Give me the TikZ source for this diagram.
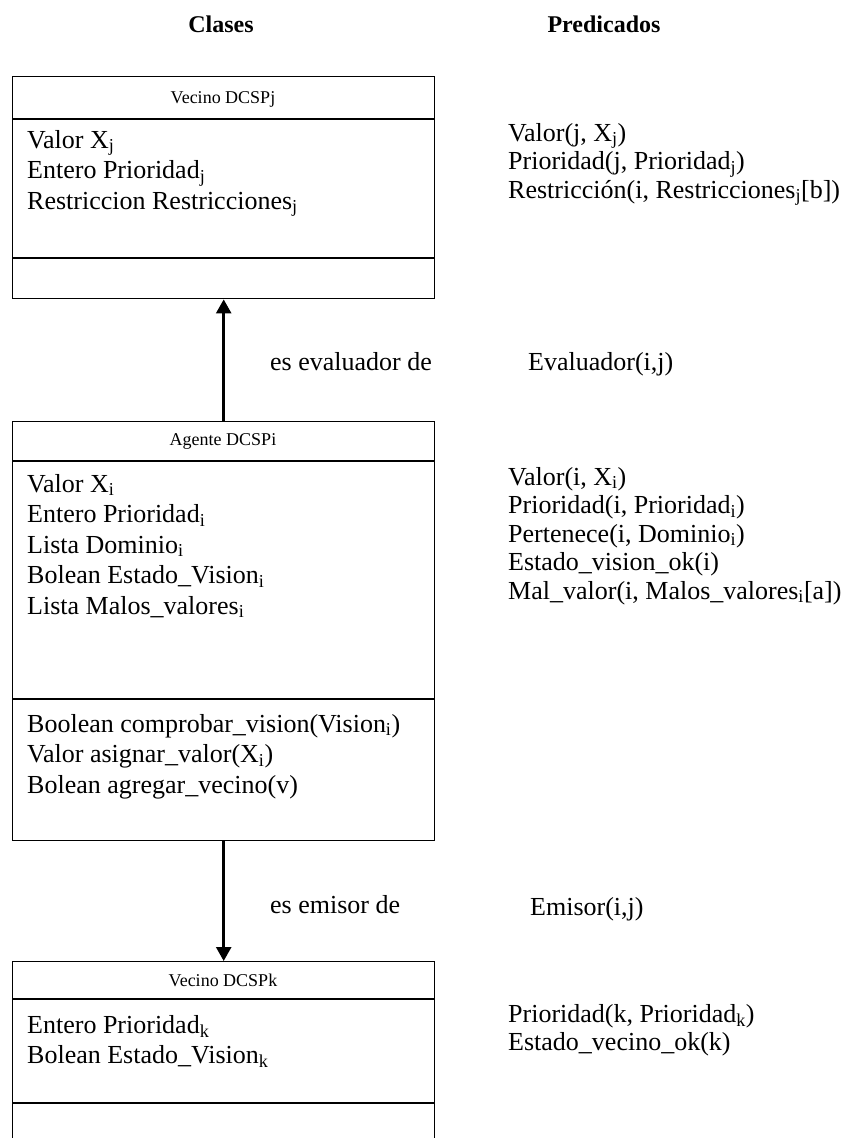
\documentclass[tikz,border=0pt]{standalone}
\usepackage{fontspec}
\setmainfont{Liberation Serif}
\usetikzlibrary{arrows.meta}
\newcommand{\ssub}[1]{\textsubscript{#1}}
\begin{document}
\begin{tikzpicture}[x=1pt,y=-1pt,
  classbox/.style={draw, line width=1.4pt, minimum width=422pt, inner sep=0pt, anchor=north west},
  part/.style={line width=1.4pt},
  title/.style={font=\fontsize{24}{28}\selectfont\bfseries, anchor=base, inner sep=0pt},
  head/.style={font=\fontsize{18}{21}\selectfont, anchor=center, inner sep=0pt},
  lefttxt/.style={font=\fontsize{26}{30.5}\selectfont, anchor=north west, align=left, inner sep=0pt},
  righttxt/.style={font=\fontsize{26}{28.5}\selectfont, anchor=north west, align=left, inner sep=0pt},
  lbl/.style={font=\fontsize{26}{30}\selectfont, anchor=base west, inner sep=0pt},
  link/.style={line width=2.5pt, -{Triangle[width=15pt,length=14pt]}},
]
\useasboundingbox (0,0) rectangle (848,1138);
\clip (0,0) rectangle (848,1138);

% column titles
\node[title] (tclases) at (221,32) {Clases};
\node[title] (tpred) at (604,32) {Predicados};

% class boxes
\node[classbox, minimum height=222pt] (vj) at (12,76) {};
\node[classbox, minimum height=419pt] (ag) at (12,421) {};
\node[classbox, minimum height=220pt] (vk) at (12,961) {};

% compartment separators
\draw[part] (12,119) -- (434,119);
\draw[part] (12,258) -- (434,258);
\draw[part] (12,461) -- (434,461);
\draw[part] (12,699) -- (434,699);
\draw[part] (12,999) -- (434,999);
\draw[part] (12,1103) -- (434,1103);

% class names
\node[head] (hvj) at (223,99) {Vecino DCSPj};
\node[head] (hag) at (223,441) {Agente DCSPi};
\node[head] (hvk) at (223,980) {Vecino DCSPk};

% attributes and methods (first baseline 20pt below the node top)
\node[lefttxt] (avj) at (27,128) {\rule{0pt}{20pt}Valor X\ssub{j}\\Entero Prioridad\ssub{j}\\Restriccion Restricciones\ssub{j}};
\node[lefttxt] (aag) at (27,472) {\rule{0pt}{20pt}Valor X\ssub{i}\\Entero Prioridad\ssub{i}\\Lista Dominio\ssub{i}\\Bolean Estado\_Vision\ssub{i}\\Lista Malos\_valores\ssub{i}};
\node[lefttxt] (mag) at (27,712) {\rule{0pt}{20pt}Boolean comprobar\_vision(Vision\ssub{i})\\Valor asignar\_valor(X\ssub{i})\\Bolean agregar\_vecino(v)};
\node[lefttxt] (avk) at (27,1013) {\rule{0pt}{20pt}Entero Prioridad\ssub{k}\\Bolean Estado\_Vision\ssub{k}};

% predicates
\node[righttxt] (pvj) at (508,121) {\rule{0pt}{20pt}Valor(j, X\ssub{j})\\Prioridad(j, Prioridad\ssub{j})\\Restricción(i, Restricciones\ssub{j}[b])};
\node[righttxt] (pag) at (508,465) {\rule{0pt}{20pt}Valor(i, X\ssub{i})\\Prioridad(i, Prioridad\ssub{i})\\Pertenece(i, Dominio\ssub{i})\\Estado\_vision\_ok(i)\\Mal\_valor(i, Malos\_valores\ssub{i}[a])};
\node[righttxt] (pvk) at (508,1002) {\rule{0pt}{20pt}Prioridad(k, Prioridad\ssub{k})\\Estado\_vecino\_ok(k)};

% associations
\draw[link] (ag.north) -- (vj.south);
\draw[link] (ag.south) -- (vk.north);
\node[lbl] (lev) at (270,370) {es evaluador de};
\node[lbl] (pev) at (528,370) {Evaluador(i,j)};
\node[lbl] (lem) at (270,913) {es emisor de};
\node[lbl] (pem) at (530,915) {Emisor(i,j)};
\end{tikzpicture}
\end{document}
